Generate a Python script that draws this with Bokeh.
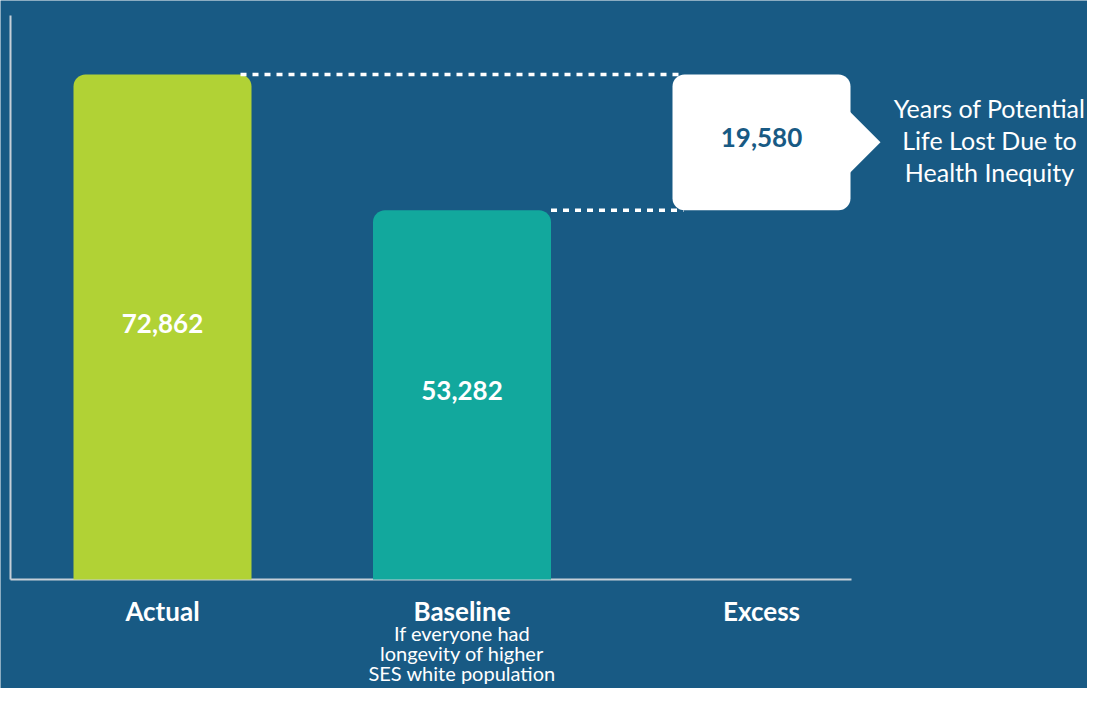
from bokeh.plotting import figure
from bokeh.models import Range1d
from bokeh.core.properties import value
from bokeh.embed import file_html
from bokeh.resources import INLINE

# ---- data ----
categories = ["Actual", "Baseline", "Excess"]
actual = 72862
baseline = 53282
excess = 19580
baseline_note = ["If everyone had", "longevity of higher", "SES white population"]
callout_text = ["Years of Potential", "Life Lost Due to", "Health Inequity"]

# ---- style ----
BG = "#185a84"
GREEN = "#b1d235"
TEAL = "#12a89d"
AXIS = "#c5cfd8"
FONT = value("Lato")
W, H = 1087, 688
PX_X = 299.5          # px per category
PX_Y = 0.0069309      # px per unit
BAR_W = 178 / PX_X
RAD = 12
X0 = 162              # px of first category centre
Y0 = 579              # px of zero line

p = figure(width=W, height=H, output_backend="svg", toolbar_location=None,
           x_range=Range1d(-X0 / PX_X, (W - X0) / PX_X),
           y_range=Range1d(-(H - Y0) / PX_Y, Y0 / PX_Y),
           min_border=0, outline_line_color=None,
           background_fill_color=BG, border_fill_color=BG)
p.axis.visible = False
p.grid.visible = False

# axis lines
ax_x = -(X0 - 10) / PX_X
p.segment(x0=[ax_x, ax_x], y0=[0, 0], x1=[ax_x, (851 - X0) / PX_X],
          y1=[(Y0 - 15) / PX_Y, 0], line_color=AXIS, line_width=2)

# bars
p.vbar(x=[0], top=[actual], bottom=0, width=BAR_W, fill_color=GREEN,
       line_color=None, border_radius=(RAD, RAD, 0, 0))
p.vbar(x=[1], top=[baseline], bottom=0, width=BAR_W, fill_color=TEAL,
       line_color=None, border_radius=(RAD, RAD, 0, 0))

# dotted connector lines
end_x = 2 - BAR_W / 2 + 11 / PX_X
p.segment(x0=[0 + BAR_W / 2 - 11 / PX_X, 1 + BAR_W / 2], y0=[actual, baseline],
          x1=[end_x, end_x], y1=[actual, baseline],
          line_color="white", line_width=3.5, line_dash="6 6")

# excess callout box + arrow
p.vbar(x=[2], top=[baseline + excess], bottom=[baseline], width=BAR_W,
       fill_color="white", line_color=None, border_radius=RAD)
mid = baseline + excess / 2
rx = 2 + BAR_W / 2 - 1 / PX_X
p.patch(x=[rx, rx + 31 / PX_X, rx], y=[mid + 31 / PX_Y, mid, mid - 31 / PX_Y],
        fill_color="white", line_color=None)

# value labels
p.text(x=[0, 1], y=[actual / 2, baseline / 2],
       text=[f"{actual:,}", f"{baseline:,}"], y_offset=-4, text_font=FONT,
       text_font_style="bold", text_font_size="26px", text_color="white",
       text_align="center", text_baseline="middle")
p.text(x=[2], y=[mid], text=[f"{excess:,}"], y_offset=-5, text_font=FONT,
       text_font_style="bold", text_font_size="26px", text_color=BG,
       text_align="center", text_baseline="middle")

# category labels
p.text(x=[0, 1, 2], y=[0, 0, 0], text=categories, y_offset=31,
       text_font=FONT, text_font_style="bold", text_font_size="26px",
       text_color="white", text_align="center", text_baseline="middle")
p.text(x=[1] * 3, y=[0] * 3, text=baseline_note, y_offset=[53, 73, 93],
       text_font=FONT, text_font_size="20px", text_color="white",
       text_align="center", text_baseline="middle")

# callout description
p.text(x=[2] * 3, y=[mid] * 3, text=callout_text, x_offset=228,
       y_offset=[-34, -2, 30], text_font=FONT, text_font_size="25px",
       text_color="white", text_align="center", text_baseline="middle")

open("out.html", "w").write(file_html(p, INLINE))
